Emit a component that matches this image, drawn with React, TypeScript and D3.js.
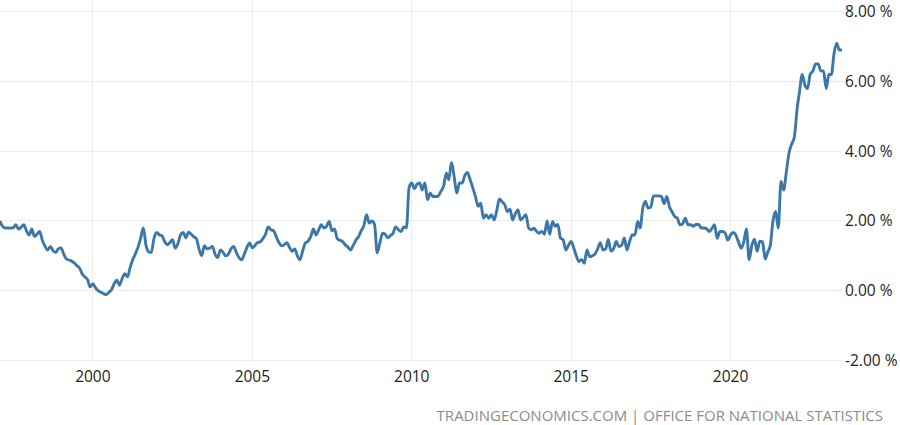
import * as d3 from "d3";
import { useCallback } from "react";

// UK core inflation rate, monthly, Feb 1997 .. Jul 2023
const startYear = 1997;
const startMonth = 1; // February (0-based)

const core1997to2001 = [
  2.0, 1.85, 1.8, 1.8, 1.8, 1.8, 1.89, 1.77, 1.82, 1.89, 1.72,
  1.6, 1.77, 1.56, 1.62, 1.7, 1.45, 1.28, 1.17, 1.27, 1.15, 1.1, 1.2,
  1.23, 1.05, 0.92, 0.88, 0.85, 0.8, 0.72, 0.65, 0.48, 0.4, 0.32, 0.11,
  0.2, 0.08, 0.0, -0.04, -0.08, -0.11, -0.05, 0.03, 0.2, 0.3, 0.16, 0.35,
  0.49, 0.4, 0.65, 0.89, 1.05, 1.25, 1.5, 1.8, 1.3, 1.12, 1.1, 1.5,
];

const core2002to2006 = [
  1.67, 1.6, 1.58, 1.42, 1.32, 1.38, 1.46, 1.22, 1.35, 1.6, 1.67, 1.52,
  1.68, 1.62, 1.55, 1.49, 1.2, 1.0, 1.29, 1.2, 1.22, 1.27, 1.05, 0.95,
  1.17, 1.1, 1.0, 1.05, 1.2, 1.27, 1.1, 0.95, 0.89, 1.05, 1.25, 1.37,
  1.23, 1.3, 1.38, 1.4, 1.49, 1.62, 1.83, 1.75, 1.72, 1.55, 1.38, 1.29,
  1.32, 1.38, 1.25, 1.13, 1.2, 1.0, 0.89, 1.15, 1.37, 1.42, 1.55, 1.77,
];

const core2007to2011 = [
  1.6, 1.75, 1.89, 1.8, 1.85, 1.99, 1.72, 1.77, 1.49, 1.45, 1.41, 1.32,
  1.25, 1.17, 1.3, 1.45, 1.55, 1.72, 1.86, 2.18, 1.94, 2.0, 1.9, 1.09,
  1.37, 1.65, 1.62, 1.52, 1.58, 1.65, 1.83, 1.75, 1.7, 1.83, 1.8, 2.95,
  3.09, 2.92, 3.05, 3.09, 2.89, 3.09, 2.61, 2.8, 2.7, 2.7, 2.72, 2.85,
  3.0, 3.37, 3.18, 3.68, 3.28, 2.8, 3.09, 3.09, 3.3, 3.39, 3.18, 2.95,
];

const core2012to2016 = [
  2.7, 2.42, 2.51, 2.08, 2.18, 2.08, 2.18, 2.03, 2.3, 2.63, 2.55, 2.47,
  2.27, 2.34, 2.03, 2.2, 2.32, 2.03, 2.1, 2.18, 1.8, 1.75, 1.79, 1.7,
  1.65, 1.7, 1.62, 2.0, 1.62, 1.99, 1.85, 1.9, 1.51, 1.46, 1.17, 1.3,
  1.41, 1.22, 1.0, 0.84, 0.9, 0.79, 1.17, 0.98, 1.0, 1.05, 1.2, 1.38,
  1.17, 1.2, 1.47, 1.14, 1.2, 1.41, 1.27, 1.3, 1.51, 1.17, 1.41, 1.6,
];

const core2017to2023 = [
  1.6, 1.99, 1.8, 2.37, 2.56, 2.37, 2.4, 2.72, 2.72, 2.72, 2.7, 2.5,
  2.7, 2.4, 2.27, 2.13, 2.08, 1.89, 1.92, 2.08, 1.89, 1.89, 1.85, 1.9,
  1.9, 1.8, 1.8, 1.78, 1.7, 1.78, 1.89, 1.5, 1.7, 1.7, 1.65, 1.45,
  1.6, 1.67, 1.6, 1.4, 1.22, 1.4, 1.77, 0.89, 1.3, 1.48, 1.13, 1.42,
  1.4, 0.91, 1.1, 1.3, 2.0, 2.27, 1.8, 3.13, 2.89, 3.4, 3.95, 4.2,
  4.4, 5.2, 5.7, 6.2, 5.9, 5.8, 6.2, 6.3, 6.5, 6.5, 6.3, 6.3,
  5.8, 6.2, 6.2, 6.8, 7.1, 6.9, 6.9,
];

const yTicks = [8, 6, 4, 2, 0, -2];
const xTickYears = [2000, 2005, 2010, 2015, 2020];
const sourceText = "TRADINGECONOMICS.COM | OFFICE FOR NATIONAL STATISTICS";

interface Point {
  date: Date;
  value: number;
}

function CoreInflationChart() {
  const renderChart = useCallback((chartRef: HTMLDivElement | null) => {
    if (!chartRef) return;

    const values = [
      ...core1997to2001,
      ...core2002to2006,
      ...core2007to2011,
      ...core2012to2016,
      ...core2017to2023,
    ];
    const data: Point[] = values.map((v, i) => ({
      date: new Date(Date.UTC(startYear, startMonth + i, 1)),
      value: v,
    }));

    const width = 900;
    const height = 425;
    const plotRight = 842;
    const font = "'Open Sans', 'DejaVu Sans', sans-serif";

    const svg = d3
      .select(chartRef)
      .append("svg")
      .attr("width", width)
      .attr("height", height)
      .style("position", "absolute")
      .style("left", "0px")
      .style("top", "0px")
      .style("background", "#fff");

    const xScale = d3
      .scaleUtc()
      .domain(d3.extent(data, (d) => d.date) as [Date, Date])
      .range([0, plotRight]);

    const yScale = d3.scaleLinear().domain([-2, 8]).range([360.5, 11.7]);

    // vertical grid
    svg
      .selectAll("line.vGrid")
      .data(xTickYears)
      .enter()
      .append("line")
      .attr("x1", (d) => xScale(new Date(Date.UTC(d, 0, 1))))
      .attr("x2", (d) => xScale(new Date(Date.UTC(d, 0, 1))))
      .attr("y1", 0)
      .attr("y2", yScale(-2))
      .attr("stroke", "#ebebeb")
      .attr("stroke-width", 1)
      .attr("shape-rendering", "crispEdges");

    // horizontal grid
    svg
      .selectAll("line.hGrid")
      .data(yTicks)
      .enter()
      .append("line")
      .attr("x1", 0)
      .attr("x2", plotRight)
      .attr("y1", (d) => yScale(d))
      .attr("y2", (d) => yScale(d))
      .attr("stroke", "#ebebeb")
      .attr("stroke-width", 1)
      .attr("shape-rendering", "crispEdges");

    // y labels on the right (plain hyphen for negatives)
    svg
      .selectAll("text.yLabel")
      .data(yTicks)
      .enter()
      .append("text")
      .attr("x", 845)
      .attr("y", (d) => yScale(d))
      .attr("dy", "0.35em")
      .attr("font-family", font)
      .attr("font-size", "15.5px")
      .attr("fill", "#1e1e1e")
      .text((d) => `${d.toFixed(2)} %`);

    // x labels
    svg
      .selectAll("text.xLabel")
      .data(xTickYears)
      .enter()
      .append("text")
      .attr("x", (d) => xScale(new Date(Date.UTC(d, 0, 1))))
      .attr("y", 382)
      .attr("text-anchor", "middle")
      .attr("font-family", font)
      .attr("font-size", "15.5px")
      .attr("fill", "#1e1e1e")
      .text((d) => String(d));

    const line = d3
      .line<Point>()
      .x((d) => xScale(d.date))
      .y((d) => yScale(d.value))
      .curve(d3.curveMonotoneX);

    svg
      .append("path")
      .datum(data)
      .attr("fill", "none")
      .attr("stroke", "#3c77aa")
      .attr("stroke-width", 2.9)
      .attr("stroke-linejoin", "round")
      .attr("d", line);

    // source note
    svg
      .append("text")
      .attr("x", 883)
      .attr("y", 421)
      .attr("text-anchor", "end")
      .attr("font-family", font)
      .attr("font-size", "15px")
      .attr("fill", "#8c8c8c")
      .text(sourceText);

    return () => {
      svg.remove();
    };
  }, []);

  return <div ref={renderChart}></div>;
}

export default function App() {
  return <CoreInflationChart />;
}
